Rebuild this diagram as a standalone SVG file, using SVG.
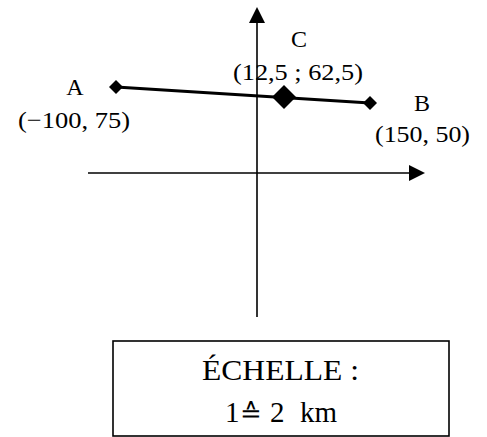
<svg xmlns="http://www.w3.org/2000/svg" width="487" height="437" viewBox="0 0 487 437">
<style>
.t{font-family:"Liberation Serif","Times New Roman",serif;fill:#000;}
.ax{stroke:#000;stroke-width:1.6;fill:none;}
.seg{stroke:#000;stroke-width:3;fill:none;}
.pt{fill:#000;}
</style>
<defs>
<marker id="arr" markerUnits="userSpaceOnUse" markerWidth="16" markerHeight="16" refX="0" refY="8" orient="auto" viewBox="0 0 16 16">
<path d="M0,0 L16,8 L0,16 Z" fill="#000"/>
</marker>
</defs>
<rect x="0" y="0" width="487" height="437" fill="#fff"/>
<g id="connectors">
<line class="ax" x1="257" y1="317" x2="257" y2="23" marker-end="url(#arr)"/>
<line class="ax" x1="88" y1="173" x2="409" y2="173" marker-end="url(#arr)"/>
<line class="seg" x1="116" y1="87" x2="370" y2="103"/>
</g>
<g id="node-A">
<path class="pt" d="M116,80 L123,87 L116,94 L109,87 Z"/>
<text class="t" x="75" y="95" font-size="24" text-anchor="middle">A</text>
<text class="t" x="18" y="128" font-size="24" textLength="112" lengthAdjust="spacingAndGlyphs">(−100, 75)</text>
</g>
<g id="node-C">
<path class="pt" d="M284,85 L296,97 L284,109 L272,97 Z"/>
<text class="t" x="299" y="47" font-size="24" text-anchor="middle">C</text>
<text class="t" x="233" y="80" font-size="24" textLength="130" lengthAdjust="spacingAndGlyphs">(12,5 ; 62,5)</text>
</g>
<g id="node-B">
<path class="pt" d="M370,96 L377,103 L370,110 L363,103 Z"/>
<text class="t" x="422" y="111" font-size="24" text-anchor="middle">B</text>
<text class="t" x="375" y="142" font-size="24" textLength="95" lengthAdjust="spacingAndGlyphs">(150, 50)</text>
</g>
<g id="scale-box">
<rect x="113" y="341" width="336" height="95" fill="#fff" stroke="#000" stroke-width="1.6"/>
<text class="t" x="202" y="380" font-size="29" textLength="157" lengthAdjust="spacingAndGlyphs">ÉCHELLE :</text>
<text class="t" y="422" font-size="29"><tspan x="225">1</tspan><tspan x="240" font-family="'DejaVu Serif','Liberation Serif',serif" font-size="26">≙</tspan><tspan x="270">2</tspan><tspan x="300">km</tspan></text>
</g>
</svg>
